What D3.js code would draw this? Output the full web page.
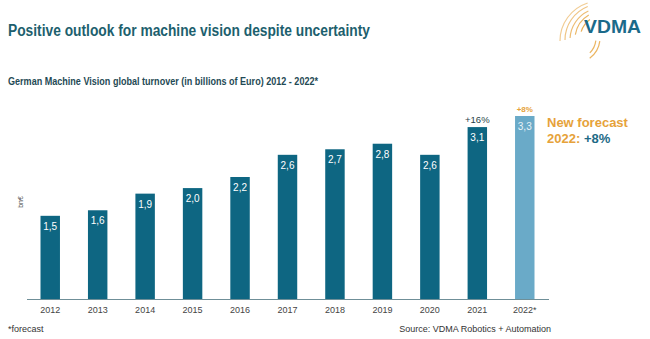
<!DOCTYPE html>
<html><head><meta charset="utf-8">
<script src="https://cdn.jsdelivr.net/npm/d3@7"></script>
<style>body{margin:0;background:#fff}svg{display:block}</style>
</head><body><svg id="c" width="650" height="339"></svg>
<script>
const years = ["2012","2013","2014","2015","2016","2017","2018","2019","2020","2021","2022*"];
const turnover = [1.5,1.6,1.9,2.0,2.2,2.6,2.7,2.8,2.6,3.1,3.3];
const valueLabels = ["1,5","1,6","1,9","2,0","2,2","2,6","2,7","2,8","2,6","3,1","3,3"];
const growthLabels = {"2021":"+16%","2022*":"+8%"};
const forecastYears = ["2022*"];

const svg = d3.select("#c");
const font = "Liberation Sans, Arial, sans-serif";
const dark = "#0e6682", light = "#6aaac8", orange = "#e6a23a", titleCol = "#1d5f6e";

const x = d3.scaleBand().domain(years).range([26.5, 548.5]).paddingInner(0.59).paddingOuter(0.295);
const y = d3.scaleLinear().domain([0, 3.3]).range([299, 116]);

// title
svg.append("text").attr("x",8).attr("y",36).attr("font-family",font).attr("font-weight","bold")
  .attr("font-size",16).attr("fill",titleCol).attr("textLength",362).attr("lengthAdjust","spacingAndGlyphs")
  .text("Positive outlook for machine vision despite uncertainty");
svg.append("text").attr("x",8).attr("y",85).attr("font-family",font).attr("font-weight","bold")
  .attr("font-size",10).attr("fill","#1f4a55").attr("textLength",310).attr("lengthAdjust","spacingAndGlyphs")
  .text("German Machine Vision global turnover (in billions of Euro) 2012 - 2022*");

// bars
svg.selectAll("rect.bar").data(years).join("rect").attr("class","bar")
  .attr("x",d=>x(d)).attr("width",x.bandwidth())
  .attr("y",(d,i)=>y(turnover[i])).attr("height",(d,i)=>y(0)-y(turnover[i]))
  .attr("fill",d=>forecastYears.includes(d)?light:dark);

svg.selectAll("text.val").data(years).join("text").attr("class","val")
  .attr("x",d=>x(d)+x.bandwidth()/2).attr("y",(d,i)=>y(turnover[i])+14)
  .attr("text-anchor","middle").attr("font-family",font).attr("font-size",10)
  .attr("fill",d=>forecastYears.includes(d)?"#e8f2f7":"#fff")
  .text((d,i)=>valueLabels[i]);

svg.selectAll("text.gr").data(Object.keys(growthLabels)).join("text").attr("class","gr")
  .attr("x",d=>x(d)+x.bandwidth()/2)
  .attr("y",d=>y(turnover[years.indexOf(d)])-4)
  .attr("text-anchor","middle").attr("font-family",font)
  .attr("font-size",d=>forecastYears.includes(d)?8:9.5)
  .attr("font-weight",d=>forecastYears.includes(d)?"bold":"normal")
  .attr("fill",d=>forecastYears.includes(d)?orange:"#1f3f48")
  .text(d=>growthLabels[d]);

// axis
const ax = svg.append("g").attr("transform","translate(0,299)")
  .call(d3.axisBottom(x).tickSize(0).tickPadding(8));
ax.select(".domain").attr("stroke","#6f8f98").attr("stroke-width",1.2);
ax.selectAll("text").attr("font-family",font).attr("font-size",9).attr("fill","#444");

svg.append("text").attr("transform","translate(23,202) rotate(-90)").attr("text-anchor","middle")
  .attr("font-family",font).attr("font-size",7).attr("fill","#444").text("bn€");

// annotation
svg.append("text").attr("x",547).attr("y",127).attr("font-family",font).attr("font-weight","bold")
  .attr("font-size",13).attr("fill",orange).text("New forecast");
const t2 = svg.append("text").attr("x",547).attr("y",143).attr("font-family",font).attr("font-weight","bold")
  .attr("font-size",13);
t2.append("tspan").attr("fill",orange).text("2022: ");
t2.append("tspan").attr("fill","#1d6a86").text("+8%");

// footer
svg.append("text").attr("x",8).attr("y",332).attr("font-family",font).attr("font-size",9)
  .attr("fill","#333").text("*forecast");
svg.append("text").attr("x",551).attr("y",332).attr("text-anchor","end").attr("font-family",font)
  .attr("font-size",9).attr("fill","#333").text("Source: VDMA Robotics + Automation");

// logo
const lg = svg.append("g");
[[600,41,40,1.0,1.4],[601,40,36,1.0,1.38],[602,40,32,1.02,1.36],[603,39,28,1.05,1.33],[604,39,24,1.1,1.3]].forEach((a,i)=>{
  const [cx,cy,r,a0,a1]=a;
  const p = d3.path();
  p.arc(cx,cy,r,Math.PI*a0,Math.PI*a1);
  lg.append("path").attr("d",p.toString()).attr("fill","none").attr("stroke",orange)
    .attr("stroke-width",1.2).attr("opacity",0.55+i*0.08);
});
[[575,38,25,0.04,0.3],[575,38,21,0.04,0.25]].forEach(a=>{
  const [cx,cy,r,a0,a1]=a;
  const p = d3.path();
  p.arc(cx,cy,r,Math.PI*a0,Math.PI*a1);
  lg.append("path").attr("d",p.toString()).attr("fill","none").attr("stroke",orange)
    .attr("stroke-width",1.2).attr("opacity",0.8);
});
svg.append("text").attr("x",584).attr("y",33).attr("font-family",font).attr("font-weight","bold")
  .attr("font-size",18).attr("fill","#1b6a8a").attr("textLength",57).attr("lengthAdjust","spacingAndGlyphs").text("VDMA");
</script></body></html>
